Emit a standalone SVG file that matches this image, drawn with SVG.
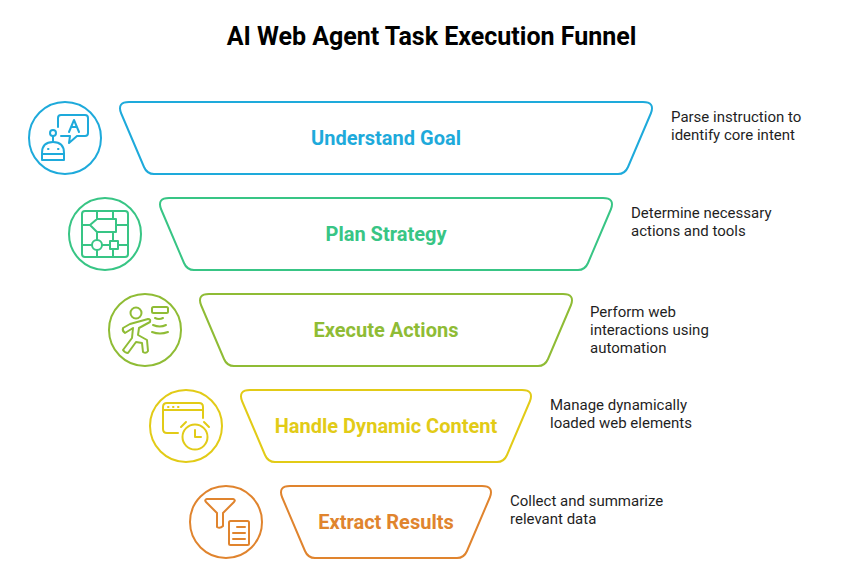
<svg xmlns="http://www.w3.org/2000/svg" width="857" height="583" viewBox="0 0 857 583">
<style>
text{font-family:Roboto,"Liberation Sans",sans-serif}
.title{font-size:25px;font-weight:700;fill:#000;text-anchor:middle}
.lab{font-size:20px;font-weight:700;text-anchor:middle}
.desc{font-size:15px;fill:#1f1f1f}
.s{fill:none;stroke-width:2;stroke-linecap:round;stroke-linejoin:round}
.c{fill:none;stroke-width:2}
.f{fill:none;stroke-width:2;stroke-linejoin:round}
.b{stroke:#1eaadb}.g{stroke:#38c585}.l{stroke:#8fbc35}.y{stroke:#e2cb17}.o{stroke:#e0842e}
</style>
<rect width="857" height="583" fill="#fff"/>
<text class="title" x="431.500" y="44.500">AI Web Agent Task Execution Funnel</text>
<g id="understand-goal">
<path class="f b" d="M129 102H643Q655 102 651 113L628 167Q625 174 618 174H154Q147 174 144 167L121 113Q117 102 129 102Z"/>
<text class="lab" x="386" y="145" fill="#1eaadb">Understand Goal</text>
<circle class="c b" cx="65" cy="138" r="36"/>
<g class="s b">
<path d="M58 127V118Q58 115 61 115H85Q88 115 88 118V133Q88 136 85 136H77L69 143L70 136H61"/>
<path d="M69 132L74 120L79 132M71 127H77"/>
<circle cx="53" cy="133" r="3"/>
<path d="M53 136V142"/>
<path d="M42 160V153Q42 142 53 142Q64 142 64 153V160Z M42 154H64"/>
<path d="M48 149h.5M58 149h.5"/>
</g>
</g>
<g id="plan-strategy">
<path class="f g" d="M169 198H603Q615 198 611 209L588 263Q585 270 578 270H194Q187 270 184 263L161 209Q157 198 169 198Z"/>
<text class="lab" x="386" y="241" fill="#38c585">Plan Strategy</text>
<circle class="c g" cx="105" cy="234" r="36"/>
<g class="s g">
<rect x="82" y="211" width="46" height="46" rx="3"/>
<path d="M97 211V219M113 211V219M90 225L97 219H116V232H97ZM82 225H90M116 225H128M97 232V240M113 232V240M82 245H92M102 245H110M118 245H128M97 250V257M113 250V257"/>
<circle cx="97" cy="245" r="5"/>
<rect x="110" y="241" width="8" height="8"/>
</g>
</g>
<g id="execute-actions">
<path class="f l" d="M209 294H563Q575 294 571 305L548 359Q545 366 538 366H234Q227 366 224 359L201 305Q197 294 209 294Z"/>
<text class="lab" x="386" y="337" fill="#8fbc35">Execute Actions</text>
<circle class="c l" cx="145" cy="330" r="36"/>
<g class="s l">
<circle cx="136" cy="313" r="5.500"/>
<rect x="152" y="307" width="16" height="6" rx="1.500"/>
<path d="M155 318Q159 320 163 318M153 325Q160 328 166 325M152 332Q160 335 168 332"/>
<path d="M123 328L130 324L148 319Q151 319 150 322L139 328L138 335L147 340L148 351Q146 354 143 352L142 343L136 342L128 353Q125 353 123 350L132 338L133 328L125 333Q122 331 123 328Z"/>
</g>
</g>
<g id="handle-dynamic-content">
<path class="f y" d="M250 390H522Q534 390 530 401L507 455Q504 462 497 462H275Q268 462 265 455L242 401Q238 390 250 390Z"/>
<text class="lab" x="386" y="433" fill="#e2cb17">Handle Dynamic Content</text>
<circle class="c y" cx="186" cy="426" r="36"/>
<g class="s y">
<path d="M178 433H167Q163 433 163 429V407Q163 403 167 403H199Q203 403 203 407V418M163 410H203"/>
<path d="M168 407h.5M173 407h.5M178 407h.5"/>
<circle cx="195" cy="437" r="12.500"/>
<path d="M195 430V437H201M181 427L186 422M209 427L204 422"/>
</g>
</g>
<g id="extract-results">
<path class="f o" d="M290 486H482Q494 486 490 497L467 551Q464 558 457 558H315Q308 558 305 551L282 497Q278 486 290 486Z"/>
<text class="lab" x="386" y="529" fill="#e0842e">Extract Results</text>
<circle class="c o" cx="226" cy="522" r="36"/>
<g class="s o">
<path d="M207 499H233Q236 500 234 502L223 513V526Q220 529 217 527V513L206 502Q204 500 207 499Z"/>
<rect x="229" y="521" width="20" height="24" rx="1.500"/>
<path d="M237 527H245M233 533H245M233 539H245"/>
</g>
</g>
<g id="descriptions">
<text class="desc" x="671" y="122">Parse instruction to</text>
<text class="desc" x="671" y="140">identify core intent</text>
<text class="desc" x="631" y="218">Determine necessary</text>
<text class="desc" x="631" y="236">actions and tools</text>
<text class="desc" x="590" y="317">Perform web</text>
<text class="desc" x="590" y="335">interactions using</text>
<text class="desc" x="590" y="353">automation</text>
<text class="desc" x="550" y="410">Manage dynamically</text>
<text class="desc" x="550" y="428">loaded web elements</text>
<text class="desc" x="510" y="506">Collect and summarize</text>
<text class="desc" x="510" y="524">relevant data</text>
</g>
</svg>
